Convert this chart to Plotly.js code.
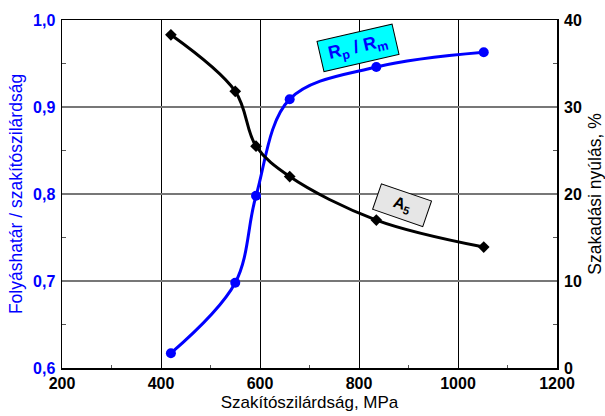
<!DOCTYPE html>
<html>
<head>
<meta charset="utf-8">
<script src="https://cdn.plot.ly/plotly-3.0.1.min.js"></script>
<style>
html,body{margin:0;padding:0;background:#fff;}
#chart{width:605px;height:416px;}
</style>
</head>
<body>
<div id="chart"></div>
<script>
// Tensile strength, MPa
var strength = [420, 550, 592, 660, 835, 1052];
// Yield strength / tensile strength ratio (left axis)
var ratio = [0.617, 0.698, 0.798, 0.909, 0.946, 0.963];
// Elongation at break A5, % (right axis)
var elongation = [38.3, 31.8, 25.5, 22.0, 17.0, 13.9];

var leftTickVals = [0.6, 0.7, 0.8, 0.9, 1.0];
var leftTickText = ['0,6', '0,7', '0,8', '0,9', '1,0'];
var xTickVals = [200, 400, 600, 800, 1000, 1200];
var xTickText = ['200', '400', '600', '800', '1000', '1200'];
var rightTickVals = [0, 10, 20, 30, 40];
var rightTickText = ['0', '10', '20', '30', '40'];

var FONT = 'Arial, "Liberation Sans", sans-serif';
var BLUE = '#0000ff';
function bold(a) { return a.map(function (s) { return '<b>' + s + '</b>'; }); }

var traces = [
  {
    x: strength, y: ratio, yaxis: 'y', type: 'scatter', mode: 'lines+markers',
    line: {color: BLUE, width: 3, shape: 'spline', smoothing: 1},
    marker: {symbol: 'circle', size: 10, color: BLUE},
    showlegend: false, hoverinfo: 'none'
  },
  {
    x: strength, y: elongation, yaxis: 'y2', type: 'scatter', mode: 'lines+markers',
    line: {color: '#000', width: 3, shape: 'spline', smoothing: 1},
    marker: {symbol: 'diamond', size: 9, color: '#000'},
    showlegend: false, hoverinfo: 'none'
  }
];

var layout = {
  width: 605, height: 416,
  margin: {l: 62, r: 48, t: 20, b: 48},
  paper_bgcolor: '#fff', plot_bgcolor: '#fff',
  font: {family: FONT, color: '#000'},
  showlegend: false,
  xaxis: {
    range: [200, 1200], tickvals: xTickVals, ticktext: bold(xTickText),
    showgrid: true, gridcolor: '#000', gridwidth: 1,
    showline: true, linecolor: '#000', linewidth: 1.5, mirror: true,
    ticks: '', zeroline: false,
    tickfont: {family: FONT, size: 16, color: '#000', weight: 700},
    minor: {ticks: 'inside', tickvals: [300, 500, 700, 900, 1100], ticklen: 3, tickcolor: '#555', tickwidth: 1, showgrid: false},
    title: {text: 'Szakítószilárdság, MPa', font: {family: FONT, size: 17, color: '#000'}, standoff: 5}
  },
  yaxis: {
    range: [0.6, 1.0], tickvals: leftTickVals, ticktext: bold(leftTickText),
    showgrid: true, gridcolor: '#777', gridwidth: 1.5,
    showline: true, linecolor: '#000', linewidth: 1.5, mirror: true,
    ticks: '', zeroline: false, ticklabelstandoff: 2,
    tickfont: {family: FONT, size: 16, color: BLUE, weight: 700},
    minor: {ticks: 'inside', tickvals: [0.65, 0.75, 0.85, 0.95], ticklen: 4, tickcolor: '#555', tickwidth: 1, showgrid: false},
    title: {text: 'Folyáshatár / szakítószilárdság', font: {family: FONT, size: 17.5, color: BLUE}, standoff: 6}
  },
  yaxis2: {
    range: [0, 40], tickvals: rightTickVals, ticktext: bold(rightTickText), overlaying: 'y', side: 'right',
    showgrid: false, showline: false, zeroline: false, ticks: '', ticklabelstandoff: 6,
    tickfont: {family: FONT, size: 16, color: '#000', weight: 700},
    minor: {ticks: 'inside', tickvals: [5, 15, 25, 35], ticklen: 4, tickcolor: '#555', tickwidth: 1, showgrid: false},
    title: {text: 'Szakadási nyúlás, %', font: {family: FONT, size: 17.5, color: '#000'}, standoff: 10}
  },
  annotations: [
    {
      x: 797, y: 0.968, xref: 'x', yref: 'y', showarrow: false,
      text: '<b>R<sub>p</sub> / R<sub>m</sub></b>', textangle: -13,
      width: 70, height: 24,
      font: {family: FONT, size: 18, color: BLUE},
      bgcolor: '#00ffff', bordercolor: '#000', borderwidth: 1, borderpad: 3
    },
    {
      x: 886, y: 18.7, xref: 'x', yref: 'y2', showarrow: false,
      text: '<b>A<sub>5</sub></b>', textangle: 19,
      width: 46, height: 20,
      font: {family: FONT, size: 16, color: '#000'},
      bgcolor: '#e6e6e6', bordercolor: '#000', borderwidth: 1, borderpad: 3
    }
  ]
};

Plotly.newPlot('chart', traces, layout, {staticPlot: true, displayModeBar: false});
</script>
</body>
</html>
